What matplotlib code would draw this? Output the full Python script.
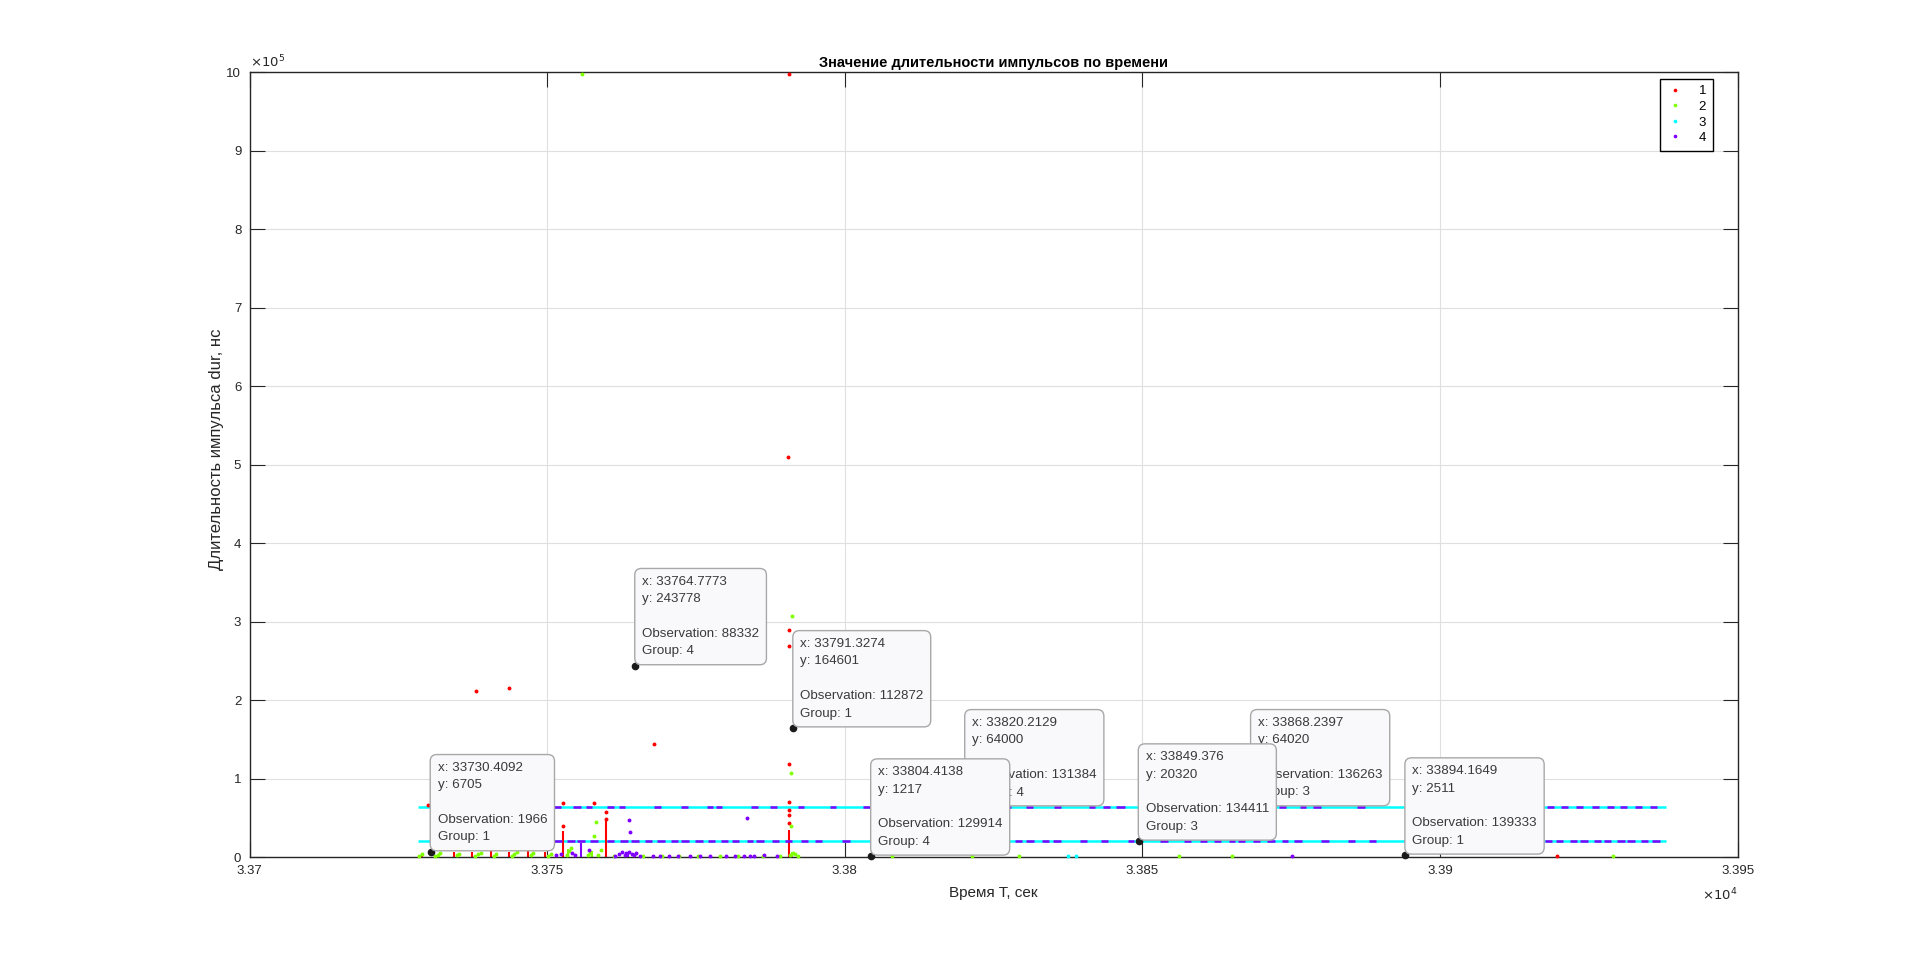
import matplotlib.pyplot as plt

plt.rcParams['font.family'] = ['Liberation Sans', 'DejaVu Sans']

# hsv(4) colours used by gscatter
red = (1.0, 0.0, 0.0)
lime = (0.5, 1.0, 0.0)
cyan = (0.0, 1.0, 1.0)
violet = (0.5, 0.0, 1.0)
colors = [red, lime, cyan, violet]
groups = ['1', '2', '3', '4']

x_ticks = [33700, 33750, 33800, 33850, 33900, 33950]
y_ticks = [0, 1e5, 2e5, 3e5, 4e5, 5e5, 6e5, 7e5, 8e5, 9e5, 1e6]

# the two dense rows of points (group 3 underneath, group 4 pieces on top)
band_levels = [64000, 20320]
band_start = 33728.3
band_end = 33937.9
upper_g4_from = [33751.1, 33754.4, 33756.6, 33760.1, 33762.0, 33767.9, 33772.4, 33776.9, 33778.3,
                 33784.2, 33787.5, 33792.1, 33797.5, 33803.0, 33809.5, 33815.0, 33826.8, 33830.4,
                 33835.1, 33841.0, 33843.3, 33845.6, 33852.0, 33858.5, 33871.2, 33873.0, 33876.4,
                 33878.6, 33886.0, 33895.0, 33903.0, 33910.0, 33915.6, 33918.0, 33920.4, 33922.9,
                 33925.5, 33928.0, 33930.3, 33932.8, 33935.2]
upper_g4_to = [33752.3, 33755.6, 33757.6, 33761.2, 33763.0, 33769.1, 33773.6, 33777.8, 33779.4,
               33785.4, 33788.6, 33793.2, 33798.5, 33804.2, 33810.5, 33816.0, 33828.0, 33831.6,
               33836.3, 33842.1, 33844.5, 33847.0, 33853.0, 33859.5, 33872.4, 33874.2, 33877.5,
               33880.0, 33887.4, 33896.0, 33904.0, 33911.2, 33916.8, 33919.2, 33921.5, 33924.0,
               33926.7, 33929.2, 33931.4, 33934.0, 33936.4]
lower_g4_from = [33751.0, 33753.4, 33755.0, 33757.2, 33760.0, 33762.3, 33764.0, 33766.4, 33768.5,
                 33770.8, 33772.5, 33774.9, 33777.0, 33779.2, 33781.0, 33783.5, 33785.0, 33787.8,
                 33790.0, 33792.6, 33795.0, 33799.5, 33808.0, 33812.5, 33817.0, 33821.0, 33826.0,
                 33828.6, 33830.5, 33833.1, 33835.0, 33839.5, 33843.0, 33847.5, 33853.0, 33857.0,
                 33859.6, 33862.0, 33864.5, 33866.0, 33868.6, 33871.0, 33873.4, 33875.5, 33880.0,
                 33884.5, 33888.0, 33894.0, 33899.0, 33904.0, 33909.0, 33915.5, 33917.6, 33919.5,
                 33921.8, 33923.5, 33925.9, 33927.5, 33929.8, 33931.5, 33933.7, 33935.6]
lower_g4_to = [33752.5, 33754.6, 33756.4, 33758.6, 33761.3, 33763.5, 33765.4, 33767.6, 33769.8,
               33771.9, 33773.9, 33776.1, 33778.2, 33780.3, 33782.3, 33784.6, 33786.4, 33789.0,
               33791.2, 33793.8, 33796.2, 33800.8, 33809.4, 33813.6, 33818.3, 33822.2, 33827.3,
               33829.8, 33831.8, 33834.3, 33836.3, 33840.7, 33844.2, 33848.6, 33854.3, 33858.2,
               33860.8, 33863.2, 33865.6, 33867.2, 33869.8, 33872.2, 33874.5, 33876.8, 33881.3,
               33885.7, 33889.2, 33895.2, 33900.2, 33905.2, 33910.3, 33916.7, 33918.8, 33920.7,
               33923.0, 33924.8, 33927.0, 33928.8, 33931.0, 33932.8, 33934.9, 33937.0]

# scattered points per group
g1_x = [33790.6, 33790.5, 33738.0, 33743.5, 33768.0, 33791.3274, 33790.6, 33790.6, 33790.6,
        33790.6, 33790.6, 33752.7, 33757.9, 33759.8, 33730.4092, 33894.1649, 33919.7, 33729.9,
        33790.6, 33790.6, 33752.7, 33759.9]
g1_y = [998000, 509300, 211000, 215600, 143600, 164601, 289200, 269100, 118200,
        70600, 43900, 69300, 69300, 48900, 6705, 2511, 900, 66000,
        54000, 60500, 40000, 57000]
g2_x = [33755.9, 33791.2, 33791.0, 33791.0, 33758.2, 33757.9, 33807.9, 33821.3, 33829.2,
        33856.1, 33865.1, 33929.1,
        33728.5, 33728.9, 33731.2, 33731.6, 33732.0, 33734.8, 33735.2, 33737.9, 33738.3,
        33738.8, 33741.0, 33741.4, 33744.1, 33744.5, 33744.9, 33747.2, 33747.6, 33750.2,
        33750.7, 33753.3, 33753.6, 33754.0, 33756.8, 33757.2, 33758.6, 33759.0, 33761.2,
        33766.1, 33769.3, 33772.2, 33775.4, 33779.0, 33782.1, 33786.3, 33789.1, 33790.8,
        33791.3, 33791.7, 33792.2]
g2_y = [998000, 307400, 107200, 39600, 45100, 26800, 800, 800, 800,
        800, 800, 800,
        1500, 3800, 1200, 3000, 5200, 2200, 4500, 1500, 3800,
        5500, 2000, 4200, 1200, 3500, 6000, 2500, 4800, 1800,
        4200, 3000, 7500, 11000, 2200, 5000, 2500, 8500, 1500,
        1200, 1000, 1500, 1200, 1000, 1300, 1500, 1800, 2500,
        5500, 3500, 1800]
g3_x = [33837.5, 33838.9]
g3_y = [800, 800]
g4_x = [33764.7773, 33734.9, 33763.8, 33763.9, 33783.5, 33784.0, 33804.4138, 33875.1,
        33761.4, 33762.0, 33762.5, 33763.0, 33763.3, 33763.8, 33764.2, 33764.6, 33765.0,
        33765.6, 33767.8, 33769.0, 33770.5, 33772.0, 33774.0, 33775.6, 33777.3, 33780.1,
        33781.6, 33783.0, 33784.8, 33786.4, 33788.6, 33754.2, 33754.6, 33757.0, 33751.5,
        33752.3]
g4_y = [243778, 88900, 47300, 32300, 49400, 1217, 800, 800,
        2000, 4200, 6000, 3200, 5200, 7000, 4200, 3000, 5500,
        2000, 1500, 1000, 1000, 1500, 1200, 1000, 800, 1500,
        1000, 1000, 1800, 2200, 1200, 5000, 2500, 9000, 2500,
        4000]

# dense vertical runs of points
g1_spike_x = [33728.9, 33734.3, 33737.4, 33740.5, 33743.6, 33746.7, 33749.7, 33752.7, 33759.9, 33790.6]
g1_spike_top = [4000, 7000, 6000, 7500, 6500, 7500, 6000, 33000, 48000, 35000]
g2_spike_x = [33753.5, 33757.6, 33791.1]
g2_spike_top = [10000, 8000, 6000]
g4_spike_x = [33755.6, 33763.6]
g4_spike_top = [18000, 6500]

# datatips: x, y, observation, group
tip_x = [33730.4092, 33764.7773, 33791.3274, 33820.2129, 33804.4138, 33868.2397, 33849.376, 33894.1649]
tip_y = [6705, 243778, 164601, 64000, 1217, 64020, 20320, 2511]
tip_obs = [1966, 88332, 112872, 131384, 129914, 136263, 134411, 139333]
tip_group = [1, 4, 1, 4, 4, 3, 3, 1]

fig = plt.figure(figsize=(19.2, 9.63), dpi=100)
ax = fig.add_axes([0.13, 0.11, 0.775, 0.815])

ms = 3.6
ax.hlines(band_levels, band_start, band_end, color=cyan, lw=1.8, zorder=2)
ax.hlines([band_levels[0]] * len(upper_g4_from), upper_g4_from, upper_g4_to, color=violet, lw=1.8, zorder=3)
ax.hlines([band_levels[1]] * len(lower_g4_from), lower_g4_from, lower_g4_to, color=violet, lw=1.8, zorder=3)

ax.vlines(g1_spike_x, 0, g1_spike_top, color=red, lw=1.5, zorder=2)
ax.vlines(g2_spike_x, 0, g2_spike_top, color=lime, lw=1.5, zorder=2)
ax.vlines(g4_spike_x, 0, g4_spike_top, color=violet, lw=1.5, zorder=3)

handles = []
for gx, gy, c, name in zip([g1_x, g2_x, g3_x, g4_x], [g1_y, g2_y, g3_y, g4_y], colors, groups):
    h, = ax.plot(gx, gy, '.', ms=ms, color=c, label=name, zorder=3, clip_on=False)
    handles.append(h)

for i in range(len(tip_x)):
    ax.plot(tip_x[i], tip_y[i], 'o', ms=4.5, color='#1a1a1a', zorder=10 + 2 * i, clip_on=False)
    txt = 'x: %s\ny: %d\n\nObservation: %d\nGroup: %d' % (tip_x[i], tip_y[i], tip_obs[i], tip_group[i])
    ax.annotate(txt, xy=(tip_x[i], tip_y[i]), xytext=(5.0, 6.0), textcoords='offset points',
                ha='left', va='bottom', fontsize=9.6, color='#3a3a3a', linespacing=1.6,
                bbox=dict(boxstyle='round,pad=0.55,rounding_size=0.5', fc='#f9f9fc', ec='#a8a8a8', lw=1),
                zorder=11 + 2 * i)

ax.set_xlim(33700, 33950)
ax.set_ylim(0, 1e6)
ax.set_xticks(x_ticks, ['%g' % (t / 1e4) for t in x_ticks])
ax.set_yticks(y_ticks, ['%g' % (t / 1e5) for t in y_ticks])
ax.tick_params(direction='in', length=11, width=0.8, labelsize=9.5, colors='#262626',
               top=True, right=True, pad=6)
ax.grid(True, color='#dfdfdf', lw=0.8)
ax.set_axisbelow(True)
for s in ax.spines.values():
    s.set_color('#262626')
    s.set_linewidth(1.0)

ax.text(0.0, 1.002, r'$\times10^{5}$', transform=ax.transAxes, fontsize=9.5, color='#262626',
        ha='left', va='bottom')
ax.text(1.0, -0.038, r'$\times10^{4}$', transform=ax.transAxes, fontsize=9.5, color='#262626',
        ha='right', va='top')

ax.set_title('Значение длительности импульсов по времени', fontsize=10.5, fontweight='bold', pad=4)
ax.set_xlabel('Время T, сек', fontsize=11, color='#262626', labelpad=6)
ax.set_ylabel('Длительность импульса dur, нс', fontsize=12, color='#262626')
ax.yaxis.set_label_coords(-0.0175, 0.519)

leg = ax.legend(handles=handles, loc='upper right', bbox_to_anchor=(0.9832, 0.9918), borderaxespad=0,
                fontsize=9.5, frameon=True, fancybox=False, edgecolor='black', framealpha=1,
                markerscale=0.9, handlelength=1.2, handletextpad=1.2, labelspacing=0.25,
                borderpad=0.5)
leg.get_frame().set_linewidth(1.0)

fig.savefig('out.png', dpi=100)
